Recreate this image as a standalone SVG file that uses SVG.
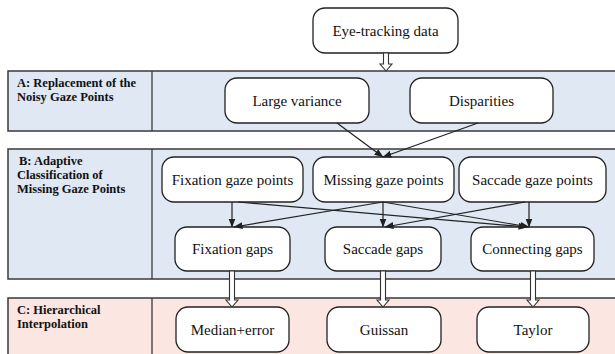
<svg xmlns="http://www.w3.org/2000/svg" width="615" height="354" viewBox="0 0 615 354">
  <defs>
    <marker id="head" markerWidth="9" markerHeight="8" refX="8.5" refY="4" orient="auto" markerUnits="userSpaceOnUse">
      <path d="M0,0.5 L9,4 L0,7.5 z" fill="#222"/>
    </marker>
    <style>
      .band-blue { fill: #dfe8f3; stroke: #3a3a3a; stroke-width: 1.5; }
      .band-pink { fill: #fbe6e2; stroke: #3a3a3a; stroke-width: 1.5; }
      .divider { stroke: #3a3a3a; stroke-width: 1.3; }
      .node rect { fill: #ffffff; stroke: #222; stroke-width: 1.3; }
      text { font-family: 'Liberation Serif', 'Times New Roman', Times, 'Nimbus Roman', 'DejaVu Serif', serif; }
      .node text { font-size: 15px; fill: #111; text-anchor: middle; }
      .label { font-size: 12.5px; font-weight: bold; fill: #111; }
      .edge { stroke: #222; stroke-width: 1.2; fill: none; marker-end: url(#head); }
      .hollow { fill: #ffffff; stroke: #333; stroke-width: 1.1; }
    </style>
  </defs>

  <rect width="615" height="354" fill="#ffffff"/>

  <!-- stage bands -->
  <g id="band-a">
    <rect class="band-blue" x="8" y="71" width="612" height="60"/>
    <line class="divider" x1="152" y1="71" x2="152" y2="131"/>
    <text class="label" x="17" y="87" font-family="Liberation Serif, serif">A: Replacement of the</text>
    <text class="label" x="17" y="101" font-family="Liberation Serif, serif">Noisy Gaze Points</text>
  </g>
  <g id="band-b">
    <rect class="band-blue" x="8" y="149" width="612" height="130"/>
    <line class="divider" x1="152" y1="149" x2="152" y2="279"/>
    <text class="label" x="19" y="165" font-family="Liberation Serif, serif">B: Adaptive</text>
    <text class="label" x="17" y="179" font-family="Liberation Serif, serif">Classification of</text>
    <text class="label" x="17" y="193" font-family="Liberation Serif, serif">Missing Gaze Points</text>
  </g>
  <g id="band-c">
    <rect class="band-pink" x="8" y="298" width="612" height="64"/>
    <line class="divider" x1="152" y1="298" x2="152" y2="362"/>
    <text class="label" x="17" y="314" font-family="Liberation Serif, serif">C: Hierarchical</text>
    <text class="label" x="17" y="328" font-family="Liberation Serif, serif">Interpolation</text>
  </g>

  <!-- nodes -->
  <g id="eye-tracking-data" class="node">
    <rect x="313" y="8" width="145" height="45" rx="12"/>
    <text x="385.5" y="35.5" font-family="Liberation Serif, serif">Eye-tracking data</text>
  </g>
  <g id="large-variance" class="node">
    <rect x="225" y="78" width="144" height="45" rx="12"/>
    <text x="297" y="106" font-family="Liberation Serif, serif">Large variance</text>
  </g>
  <g id="disparities" class="node">
    <rect x="410" y="78" width="143" height="45" rx="12"/>
    <text x="481.5" y="106" font-family="Liberation Serif, serif">Disparities</text>
  </g>
  <g id="fixation-gaze-points" class="node">
    <rect x="162" y="157" width="141" height="45" rx="12"/>
    <text x="232.5" y="185" font-family="Liberation Serif, serif">Fixation gaze points</text>
  </g>
  <g id="missing-gaze-points" class="node">
    <rect x="313" y="157" width="141" height="45" rx="12"/>
    <text x="383.5" y="185" font-family="Liberation Serif, serif">Missing gaze points</text>
  </g>
  <g id="saccade-gaze-points" class="node">
    <rect x="459" y="157" width="147" height="45" rx="12"/>
    <text x="532.5" y="185" font-family="Liberation Serif, serif">Saccade gaze points</text>
  </g>
  <g id="fixation-gaps" class="node">
    <rect x="175" y="227" width="115" height="44" rx="12"/>
    <text x="232.5" y="254" font-family="Liberation Serif, serif">Fixation gaps</text>
  </g>
  <g id="saccade-gaps" class="node">
    <rect x="325" y="227" width="116" height="44" rx="12"/>
    <text x="383" y="254" font-family="Liberation Serif, serif">Saccade gaps</text>
  </g>
  <g id="connecting-gaps" class="node">
    <rect x="471" y="227" width="123" height="44" rx="12"/>
    <text x="532.5" y="254" font-family="Liberation Serif, serif">Connecting gaps</text>
  </g>
  <g id="median-error" class="node">
    <rect x="176" y="307" width="113" height="45" rx="12"/>
    <text x="232.5" y="335" font-family="Liberation Serif, serif">Median+error</text>
  </g>
  <g id="guissan" class="node">
    <rect x="327" y="307" width="114" height="45" rx="12"/>
    <text x="384" y="335" font-family="Liberation Serif, serif">Guissan</text>
  </g>
  <g id="taylor" class="node">
    <rect x="477" y="307" width="112" height="45" rx="12"/>
    <text x="533" y="335" font-family="Liberation Serif, serif">Taylor</text>
  </g>

  <!-- connectors -->
  <g id="connectors">
    <path class="hollow" d="M383.5,53 H388.5 V64 H392 L386,71 L380,64 H383.5 Z"/>
    <line class="edge" x1="337" y1="123" x2="383" y2="157"/>
    <line class="edge" x1="478" y1="123" x2="383" y2="157"/>

    <line class="edge" x1="232" y1="202" x2="232" y2="227"/>
    <line class="edge" x1="238" y1="202" x2="527" y2="227"/>
    <line class="edge" x1="383" y1="202" x2="234" y2="227"/>
    <line class="edge" x1="383" y1="202" x2="383" y2="227"/>
    <line class="edge" x1="383" y1="202" x2="529" y2="227"/>
    <line class="edge" x1="525" y1="202" x2="385" y2="227"/>
    <line class="edge" x1="529" y1="202" x2="529" y2="227"/>

    <path class="hollow" d="M229.5,271 H234.5 V300 H238 L232,307 L226,300 H229.5 Z"/>
    <path class="hollow" d="M380.5,271 H385.5 V300 H389 L383,307 L377,300 H380.5 Z"/>
    <path class="hollow" d="M530.5,271 H535.5 V300 H539 L533,307 L527,300 H530.5 Z"/>
  </g>
</svg>
